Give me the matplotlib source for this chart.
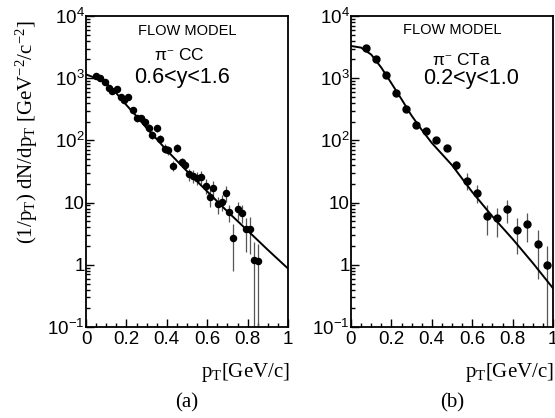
import matplotlib
matplotlib.use("Agg")
import matplotlib.pyplot as plt
from matplotlib.ticker import FixedLocator, FixedFormatter, MultipleLocator

plt.rcParams['mathtext.fontset'] = 'custom'
plt.rcParams['mathtext.rm'] = 'Liberation Serif'
plt.rcParams['mathtext.it'] = 'Liberation Serif:italic'
plt.rcParams['mathtext.sf'] = 'Liberation Sans'
plt.rcParams['font.family'] = ['Liberation Sans', 'DejaVu Sans']

# panel (a): pi- CC, 0.6<y<1.6
cc_pt = [0.050, 0.069, 0.096, 0.116, 0.129, 0.153, 0.173, 0.190, 0.210, 0.231,
         0.251, 0.272, 0.290, 0.310, 0.327, 0.350, 0.366, 0.391, 0.408, 0.429,
         0.452, 0.474, 0.490, 0.512, 0.531, 0.550, 0.569, 0.593, 0.612, 0.630,
         0.652, 0.672, 0.693, 0.709, 0.729, 0.751, 0.771, 0.790, 0.812, 0.832,
         0.853]
cc_val = [1100, 1000, 860, 700, 620, 670, 490, 445, 500, 310,
          226, 226, 200, 160, 122, 158, 107, 74, 70, 39,
          76, 45, 40, 28.5, 27, 25, 26, 18.7, 12.5, 17,
          9.5, 10.3, 14.4, 7.0, 2.7, 7.9, 6.8, 3.8, 3.8, 1.19,
          1.15]
cc_lo = [60, 60, 55, 50, 45, 50, 40, 40, 40, 30,
         25, 25, 25, 22, 18, 22, 16, 12, 12, 7,
         12, 8, 7, 6, 6, 6, 6, 5, 4, 5,
         3, 3, 4, 2.2, 1.9, 2.6, 2.1, 2.2, 2.3, 1.14,
         1.10]
cc_hi = [60, 60, 55, 50, 45, 50, 40, 40, 40, 30,
         25, 25, 25, 22, 18, 22, 16, 12, 12, 7,
         12, 8, 7, 6, 6, 6, 6, 5, 4, 5,
         3, 3, 4, 2.2, 1.8, 2.3, 2.3, 1.8, 2.1, 1.1,
         1.05]
cc_line_pt = [0, 0.05, 0.1, 0.15, 0.2, 0.25, 0.3, 0.35, 0.4, 0.5, 0.6, 0.7, 0.8, 0.9, 1.0]
cc_line = [1150, 1000, 830, 575, 370, 245, 158, 105, 69, 32, 15.1, 7.2, 3.55, 1.74, 0.87]

# panel (b): pi- CTa, 0.2<y<1.0
cta_pt = [0.073, 0.122, 0.172, 0.223, 0.272, 0.322, 0.371, 0.421, 0.474, 0.520,
          0.573, 0.622, 0.672, 0.721, 0.771, 0.823, 0.873, 0.924, 0.972]
cta_val = [3020, 2060, 1130, 585, 320, 177, 142, 102, 75, 40,
           22.5, 14.4, 6.1, 5.6, 7.9, 3.6, 4.6, 2.2, 1.0]
cta_lo = [150, 100, 60, 35, 20, 12, 10, 9, 8, 6,
          6.6, 4.6, 3.1, 2.8, 3.2, 2.1, 2.3, 1.6, 0.95]
cta_hi = [150, 100, 60, 35, 20, 12, 10, 9, 8, 6,
          7.0, 4.6, 3.0, 2.5, 3.1, 2.0, 2.3, 1.4, 1.0]
cta_line_pt = [0, 0.05, 0.1, 0.15, 0.2, 0.25, 0.3, 0.35, 0.4, 0.5, 0.6, 0.7, 0.8, 0.9, 1.0]
cta_line = [3300, 3100, 2400, 1480, 830, 460, 250, 148, 91, 40, 14.8, 6.0, 2.6, 1.07, 0.42]

y_ticks = [0.1, 1, 10, 100, 1000, 10000]
y_labels = [r'$\mathsf{10^{-1}}$', '1', '10', r'$\mathsf{10^{2}}$',
            r'$\mathsf{10^{3}}$', r'$\mathsf{10^{4}}$']
x_ticks = [0, 0.2, 0.4, 0.6, 0.8, 1.0]
x_labels = ['0', '0.2', '0.4', '0.6', '0.8', '1']

W, H = 555, 418
fig = plt.figure(figsize=(W / 100, H / 100), dpi=100)
ax_a = fig.add_axes([86 / W, 1 - 327 / H, 202 / W, 311 / H])
ax_b = fig.add_axes([351 / W, 1 - 327 / H, 202 / W, 311 / H])


def style(ax):
    ax.set_yscale('log')
    ax.set_xlim(0, 1)
    ax.set_ylim(0.1, 10000)
    ax.yaxis.set_major_locator(FixedLocator(y_ticks))
    ax.yaxis.set_major_formatter(FixedFormatter(y_labels))
    ax.yaxis.set_minor_locator(FixedLocator(
        [m * 10.0 ** e for e in range(-1, 4) for m in range(2, 10)]))
    ax.yaxis.set_minor_formatter(FixedFormatter([]))
    ax.xaxis.set_major_locator(FixedLocator(x_ticks))
    ax.xaxis.set_major_formatter(FixedFormatter(x_labels))
    ax.xaxis.set_minor_locator(MultipleLocator(0.05))
    ax.tick_params(which='both', direction='in', top=False, right=False,
                   width=1.0, labelsize=13.5)
    ax.tick_params(which='major', length=6)
    ax.tick_params(which='minor', length=3)
    ax.tick_params(axis='y', pad=1)
    ax.tick_params(axis='x', pad=3)
    for s in ax.spines.values():
        s.set_linewidth(1.3)


for ax, pt, val, lo, hi, lpt, lval, ms in [
        (ax_a, cc_pt, cc_val, cc_lo, cc_hi, cc_line_pt, cc_line, 4.4),
        (ax_b, cta_pt, cta_val, cta_lo, cta_hi, cta_line_pt, cta_line, 5.0)]:
    style(ax)
    ax.errorbar(pt, val, yerr=[lo, hi], fmt='none', ecolor='#555555',
                elinewidth=0.9, capsize=0)
    ax.plot(pt, val, 'o', color='black', markersize=ms, zorder=3)
    ax.plot(lpt, lval, '-', color='black', linewidth=1.4, zorder=2)

ax_a.text(0.5, 0.952, 'FLOW MODEL', transform=ax_a.transAxes,
          ha='center', va='center', fontsize=10.5)
ax_a.text(0.46, 0.875, r'$\mathsf{\pi}^{-}$ CC', transform=ax_a.transAxes,
          ha='center', va='center', fontsize=12.5)
ax_a.text(0.475, 0.801, '0.6<y<1.6', transform=ax_a.transAxes,
          ha='center', va='center', fontsize=15.5)

ax_b.text(0.5, 0.955, 'FLOW MODEL', transform=ax_b.transAxes,
          ha='center', va='center', fontsize=10.5)
ax_b.text(0.548, 0.859, r'$\mathsf{\pi}^{-}$ CTa', transform=ax_b.transAxes,
          ha='center', va='center', fontsize=12.5)
ax_b.text(0.593, 0.80, '0.2<y<1.0', transform=ax_b.transAxes,
          ha='center', va='center', fontsize=15.5)

fig.text(27 / W, 1 - 132 / H,
         r'(1/p$_{\rm T}$) dN/dp$_{\rm T}$ [GeV$^{-2}$/c$^{-2}$]',
         family='Liberation Serif', fontsize=15, rotation=90,
         ha='center', va='center')

for x_right, x_mid, tag in [(290, 187, '(a)'), (554, 452, '(b)')]:
    fig.text(x_right / W, 1 - 372 / H, r'p$_{\rm T}$[GeV/c]',
             family='Liberation Serif', fontsize=15, ha='right', va='center')
    fig.text(x_mid / W, 1 - 403 / H, tag, family='Liberation Serif',
             fontsize=15, ha='center', va='center')

fig.savefig('out.png', dpi=100)
